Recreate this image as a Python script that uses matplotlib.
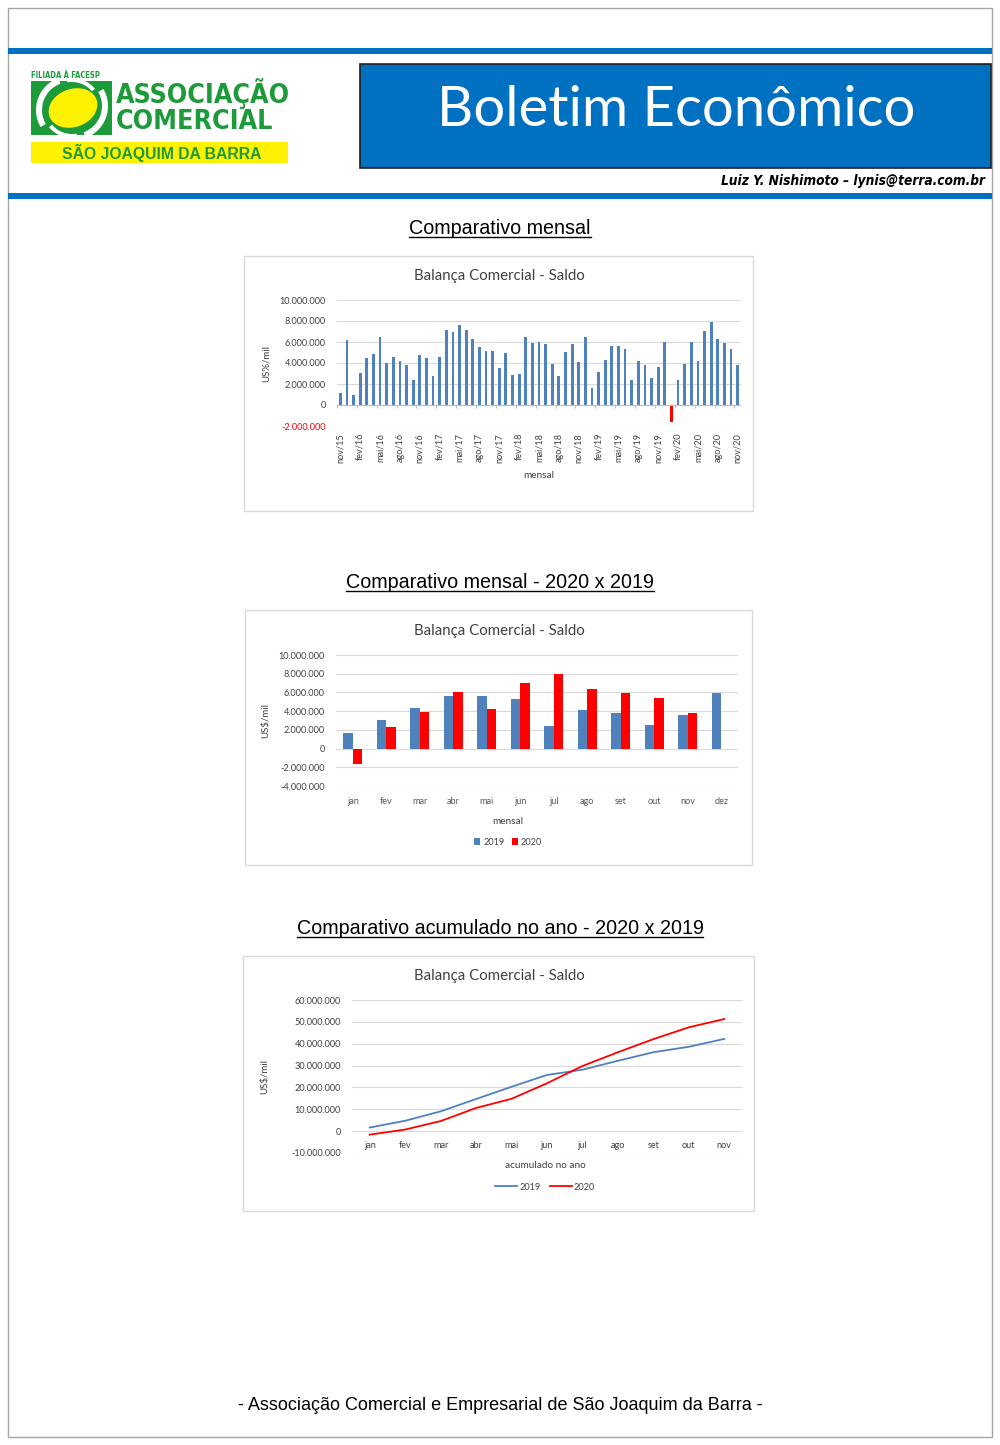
import matplotlib
matplotlib.use("Agg")
import matplotlib.pyplot as plt
from matplotlib import font_manager
from matplotlib.patches import Rectangle, Ellipse, Wedge
from matplotlib.lines import Line2D
from matplotlib.ticker import FuncFormatter

# dados - saldo mensal (US$ mil), nov/15 a nov/20
saldo_mensal = [
    1170000, 6230000, 920000, 3070000, 4490000, 4870000, 6490000, 3990000, 4530000, 4150000,
    3830000, 2340000, 4780000, 4430000, 2720000, 4530000, 7120000, 6930000, 7660000, 7180000,
    6300000, 5570000, 5190000, 5190000, 3560000, 4970000, 2850000, 2970000, 6460000, 5920000,
    6040000, 5790000, 3860000, 2780000, 5090000, 5790000, 4080000, 6460000, 1650000, 3100000,
    4300000, 5660000, 5630000, 5350000, 2410000, 4150000, 3830000, 2560000, 3610000, 5980000,
    -1610000, 2340000, 3860000, 6010000, 4210000, 7060000, 7940000, 6330000, 5950000, 5380000,
    3800000,
]
rotulos_mensal = ["nov/15", "fev/16", "mai/16", "ago/16", "nov/16", "fev/17", "mai/17",
                  "ago/17", "nov/17", "fev/18", "mai/18", "ago/18", "nov/18", "fev/19",
                  "mai/19", "ago/19", "nov/19", "fev/20", "mai/20", "ago/20", "nov/20"]

meses = ["jan", "fev", "mar", "abr", "mai", "jun", "jul", "ago", "set", "out", "nov", "dez"]
saldo_2019 = [1650000, 3100000, 4300000, 5660000, 5630000, 5350000, 2410000, 4150000,
              3830000, 2560000, 3610000, 5980000]
saldo_2020 = [-1610000, 2340000, 3860000, 6010000, 4210000, 7060000, 7940000, 6330000,
              5950000, 5380000, 3800000]

# acumulado no ano (jan a nov)
acum_2019 = [1650000, 4750000, 9050000, 14700000, 20300000, 25700000, 28100000, 32200000,
             36100000, 38600000, 42200000]
acum_2020 = [-1610000, 730000, 4600000, 10600000, 14800000, 21900000, 29800000, 36100000,
             42100000, 47500000, 51300000]

W, H = 1000, 1445
AZUL = "#4F81BD"
VERMELHO = "#FF0000"
VERDE = "#1D9A3A"
AMARELO = "#FFF200"
AZUL_CAB = "#0070C0"
GRADE = "#D9D9D9"
CINZA_TXT = "#595959"
TXT = "#404040"

nomes = {f.name for f in font_manager.fontManager.ttflist}
TEM_NARROW = "Liberation Sans Narrow" in nomes
FONTE_NARROW = "Liberation Sans Narrow" if TEM_NARROW else "DejaVu Sans"
ESTICA = "normal" if TEM_NARROW else "condensed"
FONTE_GRAF = "Lato"
FONTE_ARIAL = "Liberation Sans"

plt.rcParams["font.family"] = [FONTE_GRAF, "DejaVu Sans"]

fig = plt.figure(figsize=(W / 100, H / 100), dpi=100)
fig.patch.set_facecolor("white")

bg = fig.add_axes([0, 0, 1, 1])
bg.set_xlim(0, W)
bg.set_ylim(H, 0)
bg.axis("off")


def px_axes(x0, y0, x1, y1):
    return fig.add_axes([x0 / W, 1 - y1 / H, (x1 - x0) / W, (y1 - y0) / H])


def fmt_milhar(v, p):
    return f"{int(round(v)):,}".replace(",", ".")


# moldura da página
bg.add_patch(Rectangle((8, 8), 984, 1429, fill=False, ec="#A6A6A6", lw=1))

# cabeçalho
bg.add_patch(Rectangle((8, 48), 984, 6, color=AZUL_CAB, lw=0))
bg.add_patch(Rectangle((8, 193), 984, 6, color=AZUL_CAB, lw=0))
bg.add_patch(Rectangle((360, 64), 631, 104, fc=AZUL_CAB, ec="#1F1F1F", lw=1.2))
bg.text(676, 111, "Boletim Econômico", color="white", fontsize=40.5, family=FONTE_GRAF,
        ha="center", va="center")
bg.text(985, 181, "Luiz Y. Nishimoto – lynis@terra.com.br", family=FONTE_NARROW,
        fontstretch=ESTICA, weight="bold", style="italic",
        fontsize=10.5 if TEM_NARROW else 9.8,
        ha="right", va="center", color="black")

# logo
tam_logo = 21 if TEM_NARROW else 19.2
bg.text(31, 75, "FILIADA À FACESP", family=FONTE_NARROW, fontstretch=ESTICA,
        weight="bold", fontsize=5.5, color=VERDE, ha="left", va="center")
bg.add_patch(Rectangle((31, 81), 81, 54, color=VERDE, lw=0))
bg.add_patch(Ellipse((73, 108), 50, 38, angle=-20, color=AMARELO, lw=0))
bg.add_patch(Wedge((70, 110), 34, 150, 250, width=6, color="white", lw=0))
bg.add_patch(Wedge((74, 106), 34, 330, 70, width=6, color="white", lw=0))
bg.add_patch(Wedge((72, 108), 30, 80, 140, width=4, color="white", lw=0))
bg.add_patch(Wedge((72, 108), 30, 260, 320, width=4, color="white", lw=0))
bg.text(116, 94, "ASSOCIAÇÃO", family=FONTE_NARROW, fontstretch=ESTICA, weight="bold",
        fontsize=tam_logo, color=VERDE, ha="left", va="center")
bg.text(116, 122, "COMERCIAL", family=FONTE_NARROW, fontstretch=ESTICA, weight="bold",
        fontsize=tam_logo, color=VERDE, ha="left", va="center")
bg.add_patch(Rectangle((31, 142), 257, 21, color=AMARELO, lw=0))
bg.text(162, 153, "SÃO JOAQUIM DA BARRA", family=FONTE_ARIAL, weight="bold",
        fontsize=11.3, color=VERDE, ha="center", va="center")

# títulos das seções (sublinhados)
titulos = []
for y, txt in [(228, "Comparativo mensal"),
               (582, "Comparativo mensal - 2020 x 2019"),
               (928, "Comparativo acumulado no ano - 2020 x 2019")]:
    t = bg.text(500, y, txt, family=FONTE_ARIAL, fontsize=14.2, ha="center",
                va="center", color="black")
    titulos.append((t, y))

bg.text(500, 1406, "- Associação Comercial e Empresarial de São Joaquim da Barra -",
        family=FONTE_ARIAL, fontsize=13, ha="center", va="center", color="black")

# molduras dos gráficos
for x0, y0, x1, y1 in [(244, 256, 753, 511), (245, 610, 752, 865), (243, 956, 754, 1211)]:
    bg.add_patch(Rectangle((x0, y0), x1 - x0, y1 - y0, fill=False, ec=GRADE, lw=1))


def estilo(ax, ymin, ymax, passo):
    for s in ax.spines.values():
        s.set_visible(False)
    ax.set_ylim(ymin, ymax)
    ax.set_yticks(range(ymin, ymax + 1, passo))
    ax.yaxis.set_major_formatter(FuncFormatter(fmt_milhar))
    ax.grid(axis="y", color=GRADE, lw=0.8)
    ax.set_axisbelow(True)
    ax.tick_params(axis="y", length=0, labelsize=6.6, pad=8, labelcolor=TXT)
    ax.set_facecolor("none")


# ---- gráfico 1: comparativo mensal
ax1 = px_axes(337, 300, 741, 426)
x1 = list(range(len(saldo_mensal)))
cores = [VERMELHO if v < 0 else AZUL for v in saldo_mensal]
ax1.bar(x1, saldo_mensal, width=0.42, color=cores)
estilo(ax1, -2000000, 10000000, 2000000)
ax1.set_xlim(-0.5, len(saldo_mensal) - 0.5)
ax1.axhline(0, color="#BFBFBF", lw=0.8)
fronteiras = [i - 0.5 for i in range(0, len(saldo_mensal) + 1, 3)]
ax1.vlines(fronteiras, -250000, 0, color="#BFBFBF", lw=0.8)
ax1.set_xticks(range(0, len(saldo_mensal), 3))
ax1.set_xticklabels(rotulos_mensal, rotation=90, fontsize=6.6, color=TXT)
ax1.tick_params(axis="x", length=0, pad=5)
ax1.get_yticklabels()[0].set_color(VERMELHO)
bg.text(499, 276, "Balança Comercial - Saldo", fontsize=10.8, ha="center", va="center",
        color=TXT)
bg.text(266, 363, "US%/mil", fontsize=7, rotation=90, ha="center", va="center",
        color=TXT)
bg.text(539, 475, "mensal", fontsize=7.2, ha="center", va="center", color=TXT)

# ---- gráfico 2: mensal 2020 x 2019
ax2 = px_axes(336, 655, 738, 786)
x2 = list(range(len(meses)))
ax2.bar([i - 0.145 for i in x2], saldo_2019, width=0.29, color=AZUL, label="2019")
ax2.bar([i + 0.145 for i in range(len(saldo_2020))], saldo_2020, width=0.29,
        color=VERMELHO, label="2020")
estilo(ax2, -4000000, 10000000, 2000000)
ax2.set_xlim(-0.5, len(meses) - 0.5)
ax2.set_xticks(x2)
ax2.set_xticklabels(meses, fontsize=6.6, color=CINZA_TXT)
ax2.tick_params(axis="x", length=0, pad=8)
ax2.legend(loc="center", bbox_to_anchor=(508 / W, 1 - 842 / H),
           bbox_transform=fig.transFigure, ncol=2, frameon=False, fontsize=6.6,
           handlelength=0.7, handleheight=0.7, handletextpad=0.3, columnspacing=0.8,
           labelcolor=TXT)
bg.text(499, 631, "Balança Comercial - Saldo", fontsize=10.8, ha="center", va="center",
        color=TXT)
bg.text(266, 720, "US$/mil", fontsize=7, rotation=90, ha="center", va="center",
        color=TXT)
bg.text(508, 822, "mensal", fontsize=7.2, ha="center", va="center", color=TXT)

# ---- gráfico 3: acumulado no ano
ax3 = px_axes(352, 1000, 742, 1153)
x3 = list(range(len(acum_2019)))
ax3.plot(x3, acum_2019, color=AZUL, lw=1.3, label="2019")
ax3.plot(x3, acum_2020, color=VERMELHO, lw=1.3, label="2020")
estilo(ax3, -10000000, 60000000, 10000000)
ax3.set_xlim(-0.5, len(acum_2019) - 0.5)
ax3.spines["bottom"].set_position(("data", 0))
ax3.set_xticks(x3)
ax3.set_xticklabels(meses[:len(acum_2019)], fontsize=6.6, color=TXT)
ax3.tick_params(axis="x", length=0, pad=7)
ax3.legend(loc="center", bbox_to_anchor=(545 / W, 1 - 1187 / H),
           bbox_transform=fig.transFigure, ncol=2, frameon=False, fontsize=6.6,
           handlelength=2.4, handletextpad=0.2, columnspacing=1.0, labelcolor=TXT)
bg.text(499, 976, "Balança Comercial - Saldo", fontsize=10.8, ha="center", va="center",
        color=TXT)
bg.text(265, 1076, "US$/mil", fontsize=7, rotation=90, ha="center", va="center",
        color=TXT)
bg.text(545, 1166, "acumulado no ano", fontsize=7.2, ha="center", va="center",
        color=TXT)

# sublinhado dos títulos
fig.canvas.draw()
inv = bg.transData.inverted()
for t, y in titulos:
    bb = t.get_window_extent()
    (xa, _), (xb, _) = inv.transform([(bb.x0, bb.y0), (bb.x1, bb.y0)])
    bg.add_line(Line2D([xa, xb], [y + 9, y + 9], color="black", lw=1))

fig.savefig("out.png", dpi=100)
